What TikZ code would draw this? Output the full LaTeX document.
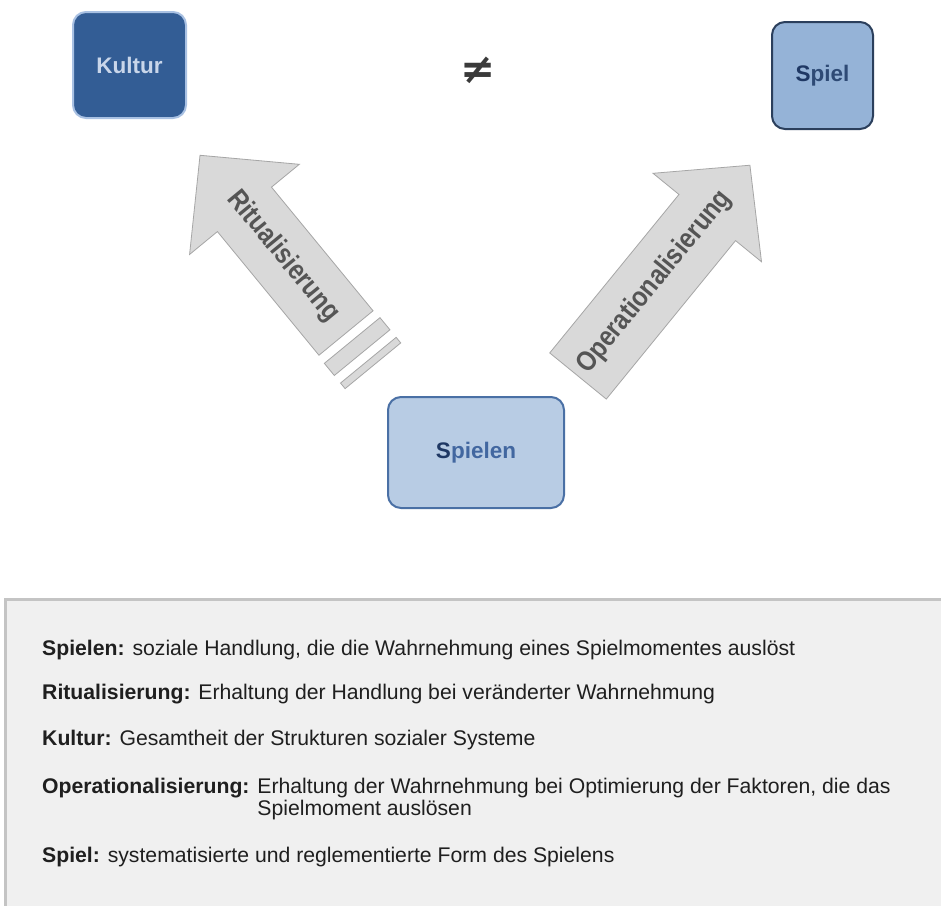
\documentclass[tikz,border=0pt]{standalone}
\usepackage{graphicx}
\usepackage{fontspec}
\setmainfont{Liberation Sans}
\newfontfamily\symfont{DejaVu Sans}
\definecolor{kulturfill}{HTML}{335D95}
\definecolor{kulturedge}{HTML}{A9C1E3}
\definecolor{kulturtext}{HTML}{C9D6EA}
\definecolor{spielfill}{HTML}{95B3D7}
\definecolor{spieledge}{HTML}{2B3F5C}
\definecolor{spieltext}{HTML}{2E4A75}
\definecolor{spielenfill}{HTML}{B8CCE4}
\definecolor{spielenedge}{HTML}{4A70A5}
\definecolor{spielentext}{HTML}{4267A0}
\definecolor{sdark}{HTML}{1F3864}
\definecolor{arrowgray}{HTML}{D9D9D9}
\definecolor{arrowedge}{HTML}{A6A6A6}
\definecolor{arrowtxt}{HTML}{555555}
\definecolor{panelfill}{HTML}{F0F0F0}
\definecolor{panelline}{HTML}{C4C4C4}
\definecolor{deftxt}{HTML}{1F1F1F}
\definecolor{neqcol}{HTML}{3A3A3A}
\newcommand{\arrowlabel}[1]{\scalebox{0.86}[1]{#1}}
\begin{document}
\begin{tikzpicture}[x=1pt,y=1pt,
  box/.style={rounded corners=13pt, line width=2pt, inner sep=0pt,
    font=\fontsize{22.5}{26}\selectfont\bfseries},
  arrowbody/.style={fill=arrowgray, draw=arrowedge, line width=0.8pt},
  arrowtext/.style={inner sep=0pt, font=\fontsize{28}{30}\selectfont\bfseries, text=arrowtxt},
  deftext/.style={anchor=base west, inner sep=0pt, align=left,
    font=\fontsize{21.2}{22.5}\selectfont, text=deftxt}]
\useasboundingbox (0,0) rectangle (941,-905);
\fill[white] (0,0) rectangle (941,-905);

% definitions panel
\node (panel) [anchor=north west, fill=panelfill, draw=panelline, line width=2.5pt,
  minimum width=950pt, minimum height=320pt, inner sep=0pt] at (4,-598) {};

% boxes
\node (kultur) [box, fill=kulturfill, draw=kulturedge, text=kulturtext,
  minimum width=113pt, minimum height=106pt] at (129.5,-65) {Kultur};
\node (spiel) [box, fill=spielfill, draw=spieledge, text=spieltext,
  minimum width=101pt, minimum height=107pt] at (822.5,-75.5) {\textcolor{sdark}{S}piel};
\node (spielen) [box, fill=spielenfill, draw=spielenedge, text=spielentext,
  minimum width=176pt, minimum height=111pt] at (476,-452.5) {\textcolor{sdark}{S}pielen};
\node (neq) [text=neqcol, font=\symfont\fontsize{42}{42}\selectfont\bfseries] at (478,-70) {≠};

% Ritualisierung arrow
\begin{scope}[shift={(346,-333)}, rotate=129.4]
  \draw[arrowbody] (0,35) -- (160,35) -- (160,71) -- (230,0) -- (160,-71) -- (160,-35) -- (0,-35) -- cycle;
  \draw[arrowbody] (-25.4,-36) rectangle (-9.7,36);
  \draw[arrowbody] (-42.4,-36) rectangle (-35.2,36);
  \node (ritual) [arrowtext, rotate=-50.6] at (99,0) {\arrowlabel{Ritualisierung}};
\end{scope}

% Operationalisierung arrow
\begin{scope}[shift={(578,-376)}, rotate=50.8]
  \draw[arrowbody] (0,36.5) -- (204.5,36.5) -- (204.5,70) -- (272,0) -- (204.5,-70) -- (204.5,-36.5) -- (0,-36.5) -- cycle;
  \node (oper) [arrowtext, rotate=50.8] at (121,0) {\arrowlabel{Operationalisierung}};
\end{scope}

% definitions
\node (d1) [deftext] at (42,-655) {\textbf{Spielen:} soziale Handlung, die die Wahrnehmung eines Spielmomentes auslöst};
\node (d2) [deftext] at (42,-699) {\textbf{Ritualisierung:} Erhaltung der Handlung bei veränderter Wahrnehmung};
\node (d3) [deftext] at (42,-745) {\textbf{Kultur:} Gesamtheit der Strukturen sozialer Systeme};
\node (d4) [deftext] at (42,-793) {\textbf{Operationalisierung:} \begin{tabular}[t]{@{}l@{}}Erhaltung der Wahrnehmung bei Optimierung der Faktoren, die das\\ Spielmoment auslösen\end{tabular}};
\node (d5) [deftext] at (42,-862) {\textbf{Spiel:} systematisierte und reglementierte Form des Spielens};
\end{tikzpicture}
\end{document}
